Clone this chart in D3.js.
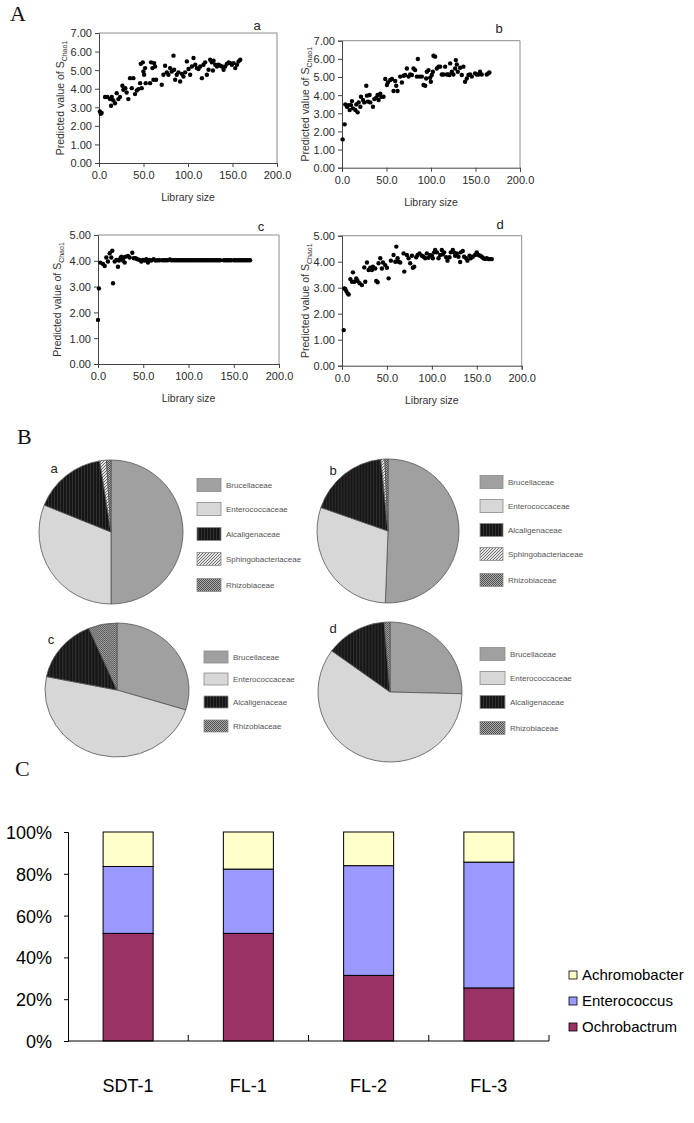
<!DOCTYPE html>
<html><head><meta charset="utf-8">
<script src="https://cdn.jsdelivr.net/npm/d3@7"></script>
<style>body{margin:0;background:#fff}svg{display:block}</style>
</head><body>
<svg id="fig" width="694" height="1123"></svg>
<script>
// ---------- DATA ----------
const xTickValues = [0, 50, 100, 150, 200];
const yTicks7 = [0, 1, 2, 3, 4, 5, 6, 7];
const yTicks5 = [0, 1, 2, 3, 4, 5];

const scatterA = [[1,2.77],[2,2.65],[3,2.7],[6.8,3.55],[9.4,3.55],[12.4,3.45],[13.5,3.08],[14.3,3.55],[16.1,3.37],[18,3.22],[19.9,3.76],[21.8,3.44],[23.6,3.55],[26.3,4.16],[27.4,3.94],[29.6,4.03],[31.1,3.8],[33,3.44],[34.9,4.57],[36.8,4.03],[38.6,4.57],[40.5,3.71],[42.4,3.9],[44.3,3.98],[46.2,4.3],[46.9,5.34],[48,4.03],[49.2,5.42],[49.9,4.93],[50.7,4.75],[51.8,5.11],[52.5,4.3],[57.4,4.3],[58.5,5.42],[60,5.11],[61.2,4.48],[61.9,5.38],[63,5.2],[64.2,4.48],[70.5,4.21],[72.4,4.75],[74.3,5.24],[76.2,4.88],[78,4.75],[79.9,5.11],[81.8,4.93],[83.7,5.78],[84.4,5.02],[85.6,4.48],[87.4,4.75],[89.3,4.88],[91.2,4.39],[93.1,4.8],[94.9,4.66],[96.8,4.88],[98.7,5.47],[100.6,5.06],[102.4,4.75],[104.3,5.2],[106.2,5.65],[108.1,5.29],[109.9,5.11],[111.8,5.06],[113.7,5.2],[115.6,4.57],[117.4,5.29],[119.3,5.42],[121.2,4.75],[123.1,5.02],[124.9,5.56],[126.8,5.42],[128,4.98],[128.7,5.51],[130.6,5.29],[132.5,5.2],[134.3,5.29],[136.2,5.24],[138.1,5.2],[140,5.02],[141.8,5.2],[143.7,5.34],[145.6,5.42],[147.5,5.38],[149.3,5.29],[151.2,5.38],[153.1,5.11],[155,5.29],[156.8,5.47],[158.7,5.56]];

const scatterB = [[0.7,1.56],[3,2.39],[3.7,3.49],[5.6,3.36],[7.5,3.45],[8.6,3.18],[10.1,3.45],[11.2,3.67],[12.3,3.27],[15,3.18],[16.1,3.49],[17.6,3.05],[18.7,3.6],[20.6,3.36],[21.3,3.91],[23.6,3.73],[25,3.6],[27.3,4.52],[28,3.97],[29.2,3.64],[31,4.01],[31.8,3.6],[34.8,3.36],[36.3,3.78],[38.5,3.86],[40,4.01],[41.1,3.73],[43,4.08],[44.1,3.91],[46.7,3.91],[48.6,4.89],[50.5,4.56],[51.6,4.7],[54.2,4.83],[56.1,4.89],[57.9,4.23],[59.8,4.78],[60.9,4.52],[62.4,4.23],[65.4,5.02],[67.3,4.7],[69.2,5.07],[71,5.11],[72.9,5.47],[74.8,5.02],[76.6,5.14],[78.5,5.11],[80.4,5.47],[82.2,5.38],[84.1,5.02],[85.2,5.99],[87.1,5.02],[89.7,5.02],[91.6,4.56],[93.5,4.52],[94.6,4.92],[95.3,5.29],[97.2,5.38],[99.1,4.96],[99.8,4.74],[100.9,5.11],[102.1,5.29],[102.8,6.17],[104.7,6.12],[106.5,5.47],[108.4,5.57],[110.3,5.57],[112.1,5.14],[114,5.14],[115.9,5.57],[117.8,5.14],[119.6,5.14],[120.7,5.11],[121.5,5.75],[123.4,5.29],[125.2,5.14],[127.1,5.47],[127.9,5.93],[129,5.69],[130.1,5.29],[132.7,5.51],[134.6,5.11],[136.4,5.57],[138.3,4.74],[140.2,4.92],[142.1,5.11],[143.9,5.14],[145.8,5.02],[149.5,5.2],[151.4,5.14],[153.3,5.14],[155.1,5.29],[157,5.14],[162.6,5.14],[164.5,5.2],[165.6,5.25]];

const scatterC = [[0,1.71],[1,2.93],[2.6,3.93],[5.5,3.88],[7.4,3.8],[9.2,4.13],[11,3.97],[12.9,4.29],[14.7,4.13],[15.8,4.39],[16.6,3.13],[18.4,3.97],[20.3,4.03],[22.1,3.77],[23.2,4.01],[24.7,4.1],[25.8,4.16],[27.6,4.01],[28.4,4.13],[29.5,3.93],[30.6,4.16],[33.1,4.19],[35,4.13],[37.9,4.31],[39.5,4.1],[41.6,4.1],[43.5,4.06],[46,4.03],[47.9,3.97],[49.7,4.03],[51.6,4.01],[53.4,4.06],[55.2,3.93],[57.1,4.03],[58.9,4.01],[61.5,4.06],[63.7,4.01],[66,4.02],[68,4.02],[71,4.02],[73,4.02],[75,4.02],[77,4.02],[79.5,4.05],[81,4.02],[83,4.02],[85,4.02],[87,4.02],[89,4.02],[91,4.02],[93,4.02],[95,4.02],[97,4.02],[99,4.02],[101,4.02],[103,4.02],[105,4.02],[107,4.02],[109,4.02],[111,4.02],[113,4.02],[115,4.02],[117,4.02],[119,4.02],[121,4.02],[123,4.02],[125,4.02],[127,4.02],[129,4.02],[131,4.02],[133,4.02],[135,4.02],[139,4.02],[141,4.02],[143,4.02],[145,4.02],[147,4.02],[150,4.02],[152,4.02],[154,4.02],[156,4.02],[158,4.02],[160,4.02],[162,4.02],[164,4.02],[166,4.02],[168,4.02]];

const scatterD = [[1.9,1.37],[2.6,2.97],[3.7,2.95],[4.8,2.87],[6.3,2.78],[7.4,2.74],[9.3,3.33],[11.1,3.23],[12.2,3.59],[13.7,3.23],[15.9,3.36],[17.4,3.26],[19.6,3.17],[22.2,3.1],[24.8,3.78],[25.9,3.23],[27.8,3.97],[29.6,3.68],[31.5,3.77],[33.3,3.68],[34.4,3.81],[37,3.74],[38.1,3.26],[39.6,3.21],[40.7,3.94],[42.6,4.13],[44.4,3.74],[45.6,3.97],[48.1,3.87],[50,3.77],[51.9,3.36],[54.4,4.04],[57.4,4.26],[59.3,4.0],[60.4,4.58],[61.9,4.13],[63,4.0],[64.8,3.97],[68.5,4.32],[69.3,3.62],[72.2,4.26],[74.1,4.13],[75.9,3.94],[77.8,4.23],[78.9,3.77],[80.4,3.81],[82.6,4.17],[84.1,4.26],[86.3,4.32],[88.9,4.23],[90.7,4.19],[92.6,4.13],[94.4,4.32],[96.3,4.15],[98.1,4.26],[100,4.23],[101.1,4.13],[102.6,4.36],[103.7,4.45],[105.6,4.36],[107.4,4.13],[109.3,4.26],[111.1,4.45],[112.2,4.28],[113.7,4.36],[115.9,4.17],[117.4,4.04],[119.6,4.17],[121.1,4.36],[123.3,4.45],[124.8,4.36],[125.9,4.23],[127.8,4.32],[129.6,4.19],[131.5,3.99],[132.2,4.36],[134.4,4.41],[135.9,4.19],[138.1,4.13],[139.6,4.04],[141.9,4.23],[143.3,4.13],[145.6,4.19],[148.1,4.26],[150,4.36],[151.9,4.26],[153.7,4.23],[155.6,4.19],[157.4,4.13],[159.3,4.1],[161.1,4.13],[163,4.1],[164.8,4.1],[166.7,4.1]];

const familiesAB = ['Brucellaceae','Enterococcaceae','Alcaligenaceae','Sphingobacteriaceae','Rhizobiaceae'];
const familiesCD = ['Brucellaceae','Enterococcaceae','Alcaligenaceae','Rhizobiaceae'];
const pieA = [50.0, 31.1, 16.4, 1.5, 1.0];
const pieB = [50.6, 29.7, 18.1, 0.9, 0.7];
const pieC = [29.8, 48.4, 15.4, 6.4];
const pieD = [25.4, 59.6, 13.7, 1.3];

const samples = ['SDT-1','FL-1','FL-2','FL-3'];
const genera = ['Ochrobactrum','Enterococcus','Achromobacter'];
const ochrobactrum = [51.5, 51.5, 31.4, 25.4];
const enterococcus = [32.0, 30.75, 52.5, 60.2];
const achromobacter = [16.5, 17.75, 16.1, 14.4];
const barTicks = [0, 20, 40, 60, 80, 100];

// ---------- DRAW ----------
const svg = d3.select('#fig');
const SANS = '"Liberation Sans", Arial, sans-serif';
const SERIF = '"Liberation Serif", "Times New Roman", serif';

[['A',10,21],['B',17,444],['C',15,776]].forEach(([t,x,y]) =>
  svg.append('text').attr('x',x).attr('y',y).attr('font-family',SERIF).attr('font-size',22).attr('fill','#111').text(t));

// ----- Panel A scatters -----
const scatterPanels = [
  {data: scatterA, yMax: 7, yt: yTicks7, left: 99, right: 277, top: 33, bottom: 163, title: 'a', tx: 257, ty: 25, lab: 39},
  {data: scatterB, yMax: 7, yt: yTicks7, left: 342, right: 520, top: 40.7, bottom: 167.7, title: 'b', tx: 499, ty: 28, lab: 37},
  {data: scatterC, yMax: 5, yt: yTicks5, left: 98, right: 279, top: 235, bottom: 364, title: 'c', tx: 261, ty: 226, lab: 41},
  {data: scatterD, yMax: 5, yt: yTicks5, left: 342, right: 521.7, top: 235.7, bottom: 365.7, title: 'd', tx: 500, ty: 224, lab: 37}
];

scatterPanels.forEach(p => {
  const g = svg.append('g');
  const x = d3.scaleLinear().domain([0, 200]).range([p.left, p.right]);
  const y = d3.scaleLinear().domain([0, p.yMax]).range([p.bottom, p.top]);
  g.append('line').attr('x1', p.left).attr('x2', p.right).attr('y1', p.top).attr('y2', p.top).attr('stroke', '#8c8c8c');
  g.append('line').attr('x1', p.right).attr('x2', p.right).attr('y1', p.top).attr('y2', p.bottom).attr('stroke', '#8c8c8c');
  const ax = g.append('g').attr('transform', `translate(0,${p.bottom})`)
    .call(d3.axisBottom(x).tickValues(xTickValues).tickSize(4).tickPadding(4).tickFormat(d3.format('.1f')));
  const ay = g.append('g').attr('transform', `translate(${p.left},0)`)
    .call(d3.axisLeft(y).tickValues(p.yt).tickSize(4).tickPadding(3).tickFormat(d3.format('.2f')));
  [ax, ay].forEach(a => {
    a.select('.domain').attr('stroke', '#444');
    a.selectAll('.tick line').attr('stroke', '#444');
    a.selectAll('text').attr('font-family', SANS).attr('font-size', 11).attr('fill', '#2a2a2a');
  });
  ay.selectAll('text').attr('dy', '0.36em');
  ax.selectAll('text').attr('dy', '0.72em');
  g.append('g').selectAll('circle').data(p.data).join('circle')
    .attr('cx', d => x(d[0])).attr('cy', d => y(d[1])).attr('r', 2.2).attr('fill', '#000');
  g.append('text').attr('x', (p.left + p.right) / 2).attr('y', p.bottom + 38)
    .attr('text-anchor', 'middle').attr('font-family', SANS).attr('font-size', 10.5).attr('fill', '#333').text('Library size');
  const yl = g.append('text').attr('transform', `translate(${p.left - p.lab + 4},${(p.top + p.bottom) / 2}) rotate(-90)`)
    .attr('text-anchor', 'middle').attr('font-family', SANS).attr('font-size', 10.5).attr('fill', '#333');
  yl.append('tspan').text('Predicted value of S');
  yl.append('tspan').attr('font-size', 7).attr('dy', 3).text('Chao1');
  g.append('text').attr('x', p.tx).attr('y', p.ty + 5).attr('text-anchor', 'middle')
    .attr('font-family', SANS).attr('font-size', 13).attr('fill', '#222').text(p.title);
});

// ----- Panel B pies -----
const defs = svg.append('defs');
const pA = defs.append('pattern').attr('id', 'pAlcal').attr('patternUnits', 'userSpaceOnUse').attr('width', 3).attr('height', 3);
pA.append('rect').attr('width', 3).attr('height', 3).attr('fill', '#161616');
pA.append('rect').attr('width', 1).attr('height', 3).attr('fill', '#303030');
const pS = defs.append('pattern').attr('id', 'pSph').attr('patternUnits', 'userSpaceOnUse').attr('width', 3).attr('height', 3);
pS.append('rect').attr('width', 3).attr('height', 3).attr('fill', '#e4e4e4');
pS.append('path').attr('d', 'M-1,1 L1,-1 M0,3 L3,0 M2,4 L4,2').attr('stroke', '#606060').attr('stroke-width', 0.9);
const pR = defs.append('pattern').attr('id', 'pRhiz').attr('patternUnits', 'userSpaceOnUse').attr('width', 2).attr('height', 2);
pR.append('rect').attr('width', 2).attr('height', 2).attr('fill', '#adadad');
pR.append('rect').attr('width', 1).attr('height', 1).attr('fill', '#4e4e4e');
pR.append('rect').attr('x', 1).attr('y', 1).attr('width', 1).attr('height', 1).attr('fill', '#4e4e4e');

const famFill = {
  Brucellaceae: '#a0a0a0', Enterococcaceae: '#d7d7d7', Alcaligenaceae: 'url(#pAlcal)',
  Sphingobacteriaceae: 'url(#pSph)', Rhizobiaceae: 'url(#pRhiz)'
};

const piePanels = [
  {values: pieA, fams: familiesAB, cx: 111, cy: 532, rx: 72, ry: 72, label: 'a', lx: 54, ly: 468, legX: 197, legW: 24, legH: 13, rows: [485, 509, 534, 559, 585]},
  {values: pieB, fams: familiesAB, cx: 388, cy: 531, rx: 71, ry: 72, label: 'b', lx: 333, ly: 470, legX: 480, legW: 23, legH: 13, rows: [482, 506, 530, 554, 580]},
  {values: pieC, fams: familiesCD, cx: 117, cy: 690, rx: 72, ry: 67, label: 'c', lx: 51, ly: 639, legX: 204, legW: 24, legH: 12, rows: [657, 679, 702, 726]},
  {values: pieD, fams: familiesCD, cx: 390, cy: 692, rx: 72, ry: 70, label: 'd', lx: 333, ly: 628, legX: 480, legW: 25, legH: 13, rows: [654, 678, 702, 728]}
];

piePanels.forEach(p => {
  const pie = d3.pie().sort(null).value(d => d.v);
  const arcs = pie(p.values.map((v, i) => ({v, f: p.fams[i]})));
  const arc = d3.arc().innerRadius(0).outerRadius(p.ry);
  const g = svg.append('g').attr('transform', `translate(${p.cx},${p.cy}) scale(${p.rx / p.ry},1)`);
  g.selectAll('path').data(arcs).join('path')
    .attr('d', arc).attr('fill', d => famFill[d.data.f])
    .attr('stroke', '#555').attr('stroke-width', 0.8).attr('vector-effect', 'non-scaling-stroke');
  svg.append('text').attr('x', p.lx).attr('y', p.ly + 5).attr('text-anchor', 'middle')
    .attr('font-family', SANS).attr('font-size', 13).attr('fill', '#222').text(p.label);
  const lg = svg.append('g');
  p.fams.forEach((f, i) => {
    lg.append('rect').attr('x', p.legX).attr('y', p.rows[i] - p.legH / 2).attr('width', p.legW).attr('height', p.legH)
      .attr('fill', famFill[f]).attr('stroke', '#8a8a8a').attr('stroke-width', 0.8);
    lg.append('text').attr('x', p.legX + p.legW + 5).attr('y', p.rows[i] + 3)
      .attr('font-family', SANS).attr('font-size', 8).attr('fill', '#555').text(f);
  });
});

// ----- Panel C stacked bars -----
const Y0 = 1041, Y100 = 832;
const bx = d3.scaleBand().domain(samples).range([68, 549]).paddingInner(0.584).paddingOuter(0.292);
const by = d3.scaleLinear().domain([0, 100]).range([Y0, Y100]);
const genusColor = {Ochrobactrum: '#993366', Enterococcus: '#9999FF', Achromobacter: '#FFFFCC'};
const rows = samples.map((s, i) => ({sample: s, Ochrobactrum: ochrobactrum[i], Enterococcus: enterococcus[i], Achromobacter: achromobacter[i]}));
const stacked = d3.stack().keys(genera)(rows);
const gc = svg.append('g');
stacked.forEach(layer => {
  gc.append('g').selectAll('rect').data(layer).join('rect')
    .attr('x', d => bx(d.data.sample)).attr('width', bx.bandwidth())
    .attr('y', d => by(d[1])).attr('height', d => by(d[0]) - by(d[1]))
    .attr('fill', genusColor[layer.key]).attr('stroke', '#000').attr('stroke-width', 1);
});
const gya = gc.append('g').attr('transform', 'translate(68,0)')
  .call(d3.axisLeft(by).tickValues(barTicks).tickSize(4).tickPadding(12).tickFormat(d => d + '%'));
gya.select('.domain').attr('stroke', '#000');
gya.selectAll('.tick line').attr('stroke', '#000');
gya.selectAll('text').attr('font-family', SANS).attr('font-size', 18).attr('fill', '#000').attr('dy', '0.36em');
const step = bx.step();
gc.append('line').attr('x1', 68).attr('x2', 549).attr('y1', Y0).attr('y2', Y0).attr('stroke', '#000');
gc.selectAll('.bt').data(samples).join('line').attr('class', 'bt')
  .attr('x1', (d, i) => 68 + (i + 1) * step).attr('x2', (d, i) => 68 + (i + 1) * step)
  .attr('y1', Y0).attr('y2', Y0 - 6).attr('stroke', '#000');
gc.selectAll('.xl').data(samples).join('text').attr('class', 'xl')
  .attr('x', d => bx(d) + bx.bandwidth() / 2).attr('y', 1092).attr('text-anchor', 'middle')
  .attr('font-family', SANS).attr('font-size', 18).attr('fill', '#000').text(d => d);
const legOrder = genera.slice().reverse();
const legY = [975, 1001, 1027];
legOrder.forEach((k, i) => {
  gc.append('rect').attr('x', 569).attr('y', legY[i] - 4).attr('width', 8).attr('height', 8)
    .attr('fill', genusColor[k]).attr('stroke', '#000').attr('stroke-width', 0.8);
  gc.append('text').attr('x', 582).attr('y', legY[i] + 5).attr('font-family', SANS).attr('font-size', 15).attr('fill', '#000').text(k);
});
</script>
</body></html>
